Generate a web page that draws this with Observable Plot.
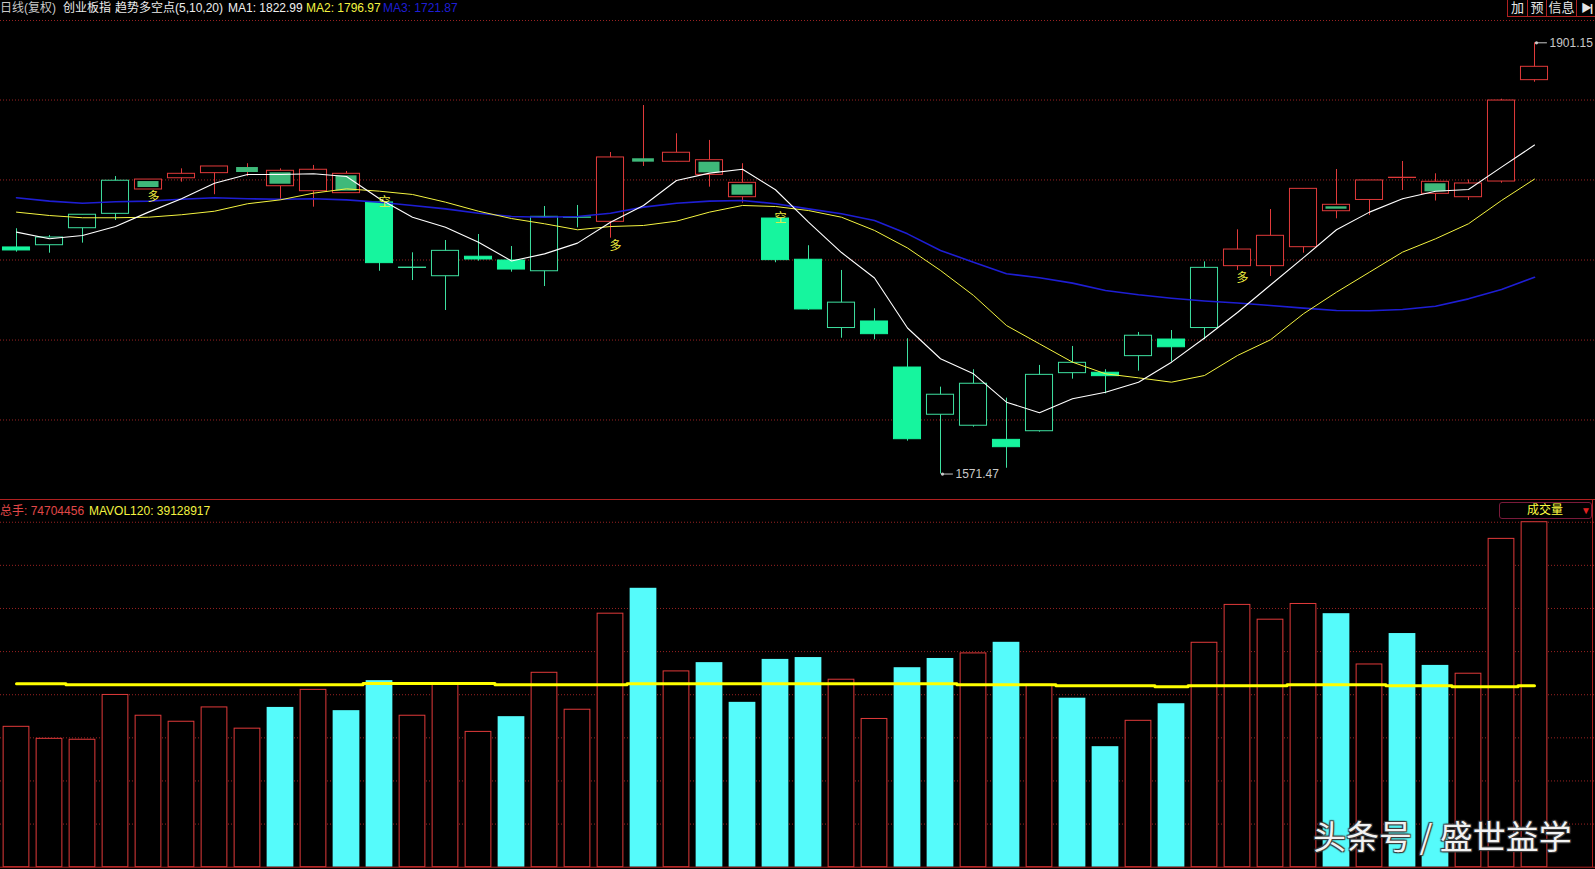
<!DOCTYPE html>
<html><head><meta charset="utf-8">
<script src="https://cdn.jsdelivr.net/npm/d3@7"></script>
<script src="https://cdn.jsdelivr.net/npm/@observablehq/plot@0.6"></script>
<style>
html,body{margin:0;padding:0;background:#000;overflow:hidden}
#root{position:relative;width:1595px;height:869px;background:#000;font-family:"Liberation Sans","Noto Sans CJK SC",sans-serif;font-size:12px;}
.abs{position:absolute;white-space:nowrap;line-height:16px}
.btn{position:absolute;top:0;height:16px;border:1px solid #b02020;border-top:none;color:#e6e6e6;font-size:13px;line-height:16px;text-align:center;box-sizing:content-box}
</style></head><body>
<div id="root"></div>
<script>
// ---------------- data ----------------
const headerParts = ["日线(复权)", "创业板指", "趋势多空点(5,10,20)"];
const maNames = ["MA1", "MA2", "MA3"];
const maLast = ["1822.99", "1796.97", "1721.87"];
const volHeader = {total: "74704456", mavolName: "MAVOL120", mavol: "39128917"};
const buttons = ["加", "预", "信息", "▶|"];
const indicatorName = "成交量";
const watermark = "头条号 / 盛世益学";

const open  = [1744.7,1746.4,1759.4,1770.4,1796.6,1797.6,1801.5,1805.8,1803.3,1787.7,
               1801.0,1779.1,1729.0,1722.7,1737.6,1734.7,1726.5,1767.4,1764.3,1812.5,
               1810.2,1811.4,1794.1,1766.8,1735.3,1683.1,1688.1,1652.9,1616.8,1608.4,
               1597.6,1604.2,1648.6,1648.9,1661.6,1674.3,1683.1,1730.4,1730.4,1744.9,
               1777.3,1781.0,1797.8,1794.9,1783.1,1795.1,1872.6];
const high  = [1759.0,1753.8,1769.7,1798.9,1796.6,1804.8,1806.6,1808.7,1804.8,1807.4,
               1802.8,1779.1,1740.6,1750.0,1754.6,1745.4,1776.0,1776.8,1817.3,1853.2,
               1831.6,1826.5,1808.7,1766.8,1746.0,1727.1,1697.8,1674.9,1637.9,1651.2,
               1629.5,1654.5,1669.0,1651.2,1679.7,1681.2,1733.7,1758.2,1773.7,1789.5,
               1804.3,1795.9,1810.4,1801.0,1796.3,1858.0,1901.15];
const low   = [1741.1,1740.3,1748.0,1765.3,1789.0,1794.6,1785.0,1798.9,1780.6,1775.5,
               1786.2,1726.5,1719.4,1696.5,1734.2,1725.8,1714.8,1759.7,1751.8,1806.6,
               1809.9,1790.8,1778.5,1733.0,1696.5,1675.3,1674.1,1596.6,1571.47,1607.3,
               1575.9,1603.5,1644.0,1632.8,1650.1,1657.0,1674.1,1727.1,1722.5,1740.3,
               1766.6,1769.1,1788.2,1780.2,1780.6,1793.8,1871.0];
const close = [1742.4,1752.3,1769.7,1795.7,1789.0,1801.0,1806.6,1802.0,1791.5,1804.1,
               1786.2,1732.7,1729.3,1742.1,1735.5,1727.8,1768.1,1767.6,1813.5,1809.9,
               1817.1,1800.2,1783.1,1735.0,1697.3,1702.5,1678.4,1598.1,1632.1,1640.5,
               1592.0,1647.3,1656.5,1646.3,1677.2,1668.4,1729.1,1743.1,1753.6,1789.5,
               1772.4,1795.9,1798.0,1785.7,1793.6,1857.0,1882.8];
// candle drawing style: F bright filled, G hollow green, R hollow red, M red box + green fill, N green fill only
const candleStyle = ["F","G","G","G","M","R","R","N","M","R",
                     "M","F","G","G","F","F","G","G","R","N",
                     "R","M","M","F","F","G","F","F","G","G",
                     "F","G","G","F","G","F","G","R","R","R",
                     "M","R","R","M","R","R","R"];
const ma5  = [1756.4,1751.3,1753.8,1760.7,1771.7,1781.9,1793.8,1800.5,1800.5,1801.0,
              1798.9,1781.9,1767.8,1760.2,1748.7,1734.4,1739.8,1748.0,1764.0,1776.8,
              1795.9,1801.5,1804.5,1788.8,1764.0,1740.8,1721.3,1683.1,1659.6,1648.1,
              1626.4,1618.3,1629.0,1634.0,1641.7,1657.0,1675.5,1695.0,1716.0,1736.9,
              1758.2,1771.7,1781.9,1787.7,1789.0,1806.1,1822.99];
const ma10 = [1771.7,1769.1,1767.4,1767.4,1767.8,1769.7,1772.4,1778.1,1781.1,1786.2,
              1789.5,1787.7,1785.2,1779.3,1772.4,1766.8,1762.8,1758.2,1760.7,1761.5,
              1764.8,1771.7,1776.8,1776.0,1772.9,1767.8,1757.7,1744.3,1727.1,1708.0,
              1685.0,1671.0,1657.0,1648.1,1645.0,1641.7,1646.8,1662.1,1674.1,1694.0,
              1710.5,1725.8,1741.1,1751.3,1762.8,1780.6,1796.97];
const ma20 = [1782.7,1780.1,1778.5,1779.6,1780.1,1781.6,1782.7,1781.9,1781.6,1781.9,
              1781.1,1779.3,1776.8,1774.2,1770.9,1768.4,1767.8,1768.4,1770.9,1775.5,
              1778.5,1780.1,1780.6,1778.1,1774.2,1770.4,1765.3,1755.1,1742.4,1733.4,
              1724.6,1721.5,1717.4,1711.8,1708.5,1705.9,1703.8,1702.2,1700.3,1698.3,
              1696.5,1696.3,1697.3,1699.8,1705.4,1712.6,1721.87];
// volume in millions of shares
const volume = [30.4,27.8,27.6,37.3,32.8,31.5,34.6,30.0,34.6,38.4,
                33.9,40.4,32.8,39.6,29.3,32.6,42.1,34.1,54.9,60.4,
                42.4,44.3,35.7,45.0,45.4,40.6,32.1,43.2,45.2,46.3,
                48.7,39.5,36.6,26.1,31.7,35.4,48.6,56.8,53.6,57.0,
                54.9,43.9,50.6,43.7,41.9,71.1,74.704456];
// volume bar colour: r hollow red, c filled cyan
const volumeColor = ["r","r","r","r","r","r","r","r","c","r",
                     "c","c","r","r","r","c","r","r","r","c",
                     "r","c","c","c","c","r","r","c","c","r",
                     "c","r","c","c","r","c","r","r","r","r",
                     "c","r","c","c","r","r","r"];
const mavol120 = [39.7,39.7,39.5,39.5,39.5,39.5,39.5,39.5,39.5,39.5,
                  39.5,39.8,39.8,39.8,39.8,39.5,39.5,39.5,39.5,39.7,
                  39.7,39.7,39.7,39.7,39.7,39.7,39.7,39.7,39.7,39.5,
                  39.5,39.5,39.3,39.3,39.3,39.1,39.3,39.3,39.3,39.5,
                  39.5,39.5,39.3,39.3,39.1,39.1,39.3];
const signalIndex = [4, 11, 18, 23, 37];
const signalText  = ["多", "空", "多", "空", "多"];
const priceGrid = [1918.2, 1857.4, 1796.3, 1735.1, 1673.9, 1612.8];
const volumeGrid = [9.34, 18.68, 28.01, 37.35, 46.69, 56.03, 65.37, 74.70];

// ---------------- styles ----------------
const W = 1595;
const RED = "#e03a3a", GRN = "#3ee0a0", BRIGHT = "#16f59e", MED = "#3fb97a";
const CYAN = "#55fbfb", GRIDC = "#9a2222", FRAME = "#b02020", YEL = "#ffff00";
const FONT = "Liberation Sans, Noto Sans CJK SC, sans-serif";

const root = document.getElementById("root");
function addDiv(html, css) {
  const d = document.createElement("div");
  d.className = "abs";
  d.innerHTML = html;
  Object.assign(d.style, css);
  root.appendChild(d);
  return d;
}

const idx = d3.range(open.length);
const candles = idx.map(i => ({
  i, o: open[i], h: high[i], l: low[i], c: close[i], s: candleStyle[i],
  top: Math.max(open[i], close[i]), bot: Math.min(open[i], close[i])
}));
const xDomain = [-16 / 33, (W - 16) / 33];
const isRed = s => s === "R" || s === "M" || s === "N";

const iMax = d3.maxIndex(high), iMin = d3.minIndex(low);
const extremes = [{i: iMax, v: high[iMax]}, {i: iMin, v: low[iMin]}];
const signals = signalIndex.map((i, k) => ({i, t: signalText[k], low: low[i], high: high[i]}));

const pricePlot = Plot.plot({
  width: W, height: 500, margin: 0,
  style: {background: "transparent", overflow: "visible"},
  x: {type: "linear", domain: xDomain, axis: null},
  y: {domain: [1551.24, 1933.49], axis: null},
  marks: [
    Plot.ruleY(priceGrid, {stroke: GRIDC, strokeDasharray: "1,2"}),
    Plot.ruleX(candles, {x: "i", y1: "l", y2: "h", stroke: d => isRed(d.s) ? RED : GRN}),
    Plot.rect(candles.filter(d => d.s !== "N"), {
      x1: d => d.i - 0.41, x2: d => d.i + 0.41, y1: "bot", y2: "top",
      fill: d => d.s === "F" ? BRIGHT : "#000",
      stroke: d => d.s === "F" ? BRIGHT : (d.s === "G" ? GRN : RED)
    }),
    Plot.rect(candles.filter(d => d.s === "M"), {
      x1: d => d.i - 0.41, x2: d => d.i + 0.41, y1: "bot", y2: "top",
      insetLeft: 3, insetRight: 3, insetTop: 2, insetBottom: 2, fill: MED
    }),
    Plot.rect(candles.filter(d => d.s === "N"), {
      x1: d => d.i - 0.33, x2: d => d.i + 0.33, y1: "bot", y2: "top", fill: MED
    }),
    Plot.line(idx, {x: i => i, y: i => ma20[i], stroke: "#1e1ed4", strokeWidth: 1.6}),
    Plot.line(idx, {x: i => i, y: i => ma10[i], stroke: "#f4f440", strokeWidth: 1}),
    Plot.line(idx, {x: i => i, y: i => ma5[i], stroke: "#ffffff", strokeWidth: 1.1}),
    Plot.text(signals.filter(d => d.t === "多"), {x: "i", y: "low", text: "t", dx: 5, dy: 8, fill: "#f0f040", fontSize: 12, fontFamily: "Noto Sans CJK SC"}),
    Plot.text(signals.filter(d => d.t === "空"), {x: "i", y: "high", text: "t", dx: 5, dy: 0, fill: "#f0f040", fontSize: 12, fontFamily: "Noto Sans CJK SC"}),
    // arrow pointers to the extreme high / low
    Plot.ruleY(extremes, {x1: d => d.i, x2: d => d.i + 0.36, y: "v", stroke: "#c8c8c8", dx: 1}),
    Plot.dot(extremes, {x: "i", y: "v", r: 1.6, fill: "#c8c8c8", dx: 2}),
    Plot.text(extremes, {x: "i", y: "v", text: d => d.v.toFixed(2), textAnchor: "start", dx: 15, fill: "#c8c8c8", fontSize: 12, fontFamily: FONT})
  ]
});
Object.assign(pricePlot.style, {position: "absolute", left: "0px", top: "0px"});
root.appendChild(pricePlot);

const bars = idx.map(i => ({i, v: volume[i], c: volumeColor[i], m: mavol120[i]}));
const volPlot = Plot.plot({
  width: W, height: 369, margin: 0,
  style: {background: "transparent", overflow: "visible"},
  x: {type: "linear", domain: xDomain, axis: null},
  y: {domain: [-0.498, 79.41], axis: null},
  marks: [
    Plot.ruleY(volumeGrid, {stroke: GRIDC, strokeDasharray: "1,2"}),
    Plot.rect(bars.filter(d => d.c === "r"), {x1: d => d.i - 0.39, x2: d => d.i + 0.39, y1: 0, y2: "v", fill: "#000", stroke: RED}),
    Plot.rect(bars.filter(d => d.c === "c"), {x1: d => d.i - 0.405, x2: d => d.i + 0.405, y1: 0, y2: "v", fill: CYAN}),
    Plot.line(bars, {x: "i", y: "m", curve: "step", stroke: YEL, strokeWidth: 3}),
    Plot.ruleY([0], {stroke: FRAME})
  ]
});
Object.assign(volPlot.style, {position: "absolute", left: "0px", top: "500px"});
root.appendChild(volPlot);

// pane separator and right frame of the volume pane
const sep = document.createElement("div");
Object.assign(sep.style, {position: "absolute", left: "0px", top: "499px", width: W + "px", height: "1px", background: FRAME});
root.appendChild(sep);
const rb = document.createElement("div");
Object.assign(rb.style, {position: "absolute", left: "1592px", top: "500px", width: "1px", height: "367px", background: FRAME});
root.appendChild(rb);

// header texts
addDiv(headerParts[0], {left: "0px", top: "0px", color: "#c8c8c8"});
addDiv(headerParts[1], {left: "63px", top: "0px", color: "#ececec"});
addDiv(headerParts[2], {left: "115px", top: "0px", color: "#ececec"});
addDiv(maNames[0] + ": " + maLast[0], {left: "228px", top: "0px", color: "#f0f0f0"});
addDiv(maNames[1] + ": " + maLast[1], {left: "306px", top: "0px", color: "#f4f440"});
addDiv(maNames[2] + ": " + maLast[2], {left: "383px", top: "0px", color: "#1e1ed4"});

// top right buttons
const btnX = [1507, 1527, 1546, 1576], btnW = [19, 18, 29, 18];
buttons.forEach((b, k) => {
  const d = document.createElement("div");
  d.className = "btn";
  d.textContent = b;
  Object.assign(d.style, {left: btnX[k] + "px", width: btnW[k] + "px"});
  if (k === 3) { d.style.fontSize = "11px"; d.style.letterSpacing = "-2px"; d.style.fontWeight = "bold"; }
  root.appendChild(d);
});

// volume header
addDiv(`<span style="color:#e04848">总手: ${volHeader.total}</span>`, {left: "0px", top: "503px"});
addDiv(`<span style="color:#f4f440">${volHeader.mavolName}: ${volHeader.mavol}</span>`, {left: "89px", top: "503px"});

// indicator selector box
const box = document.createElement("div");
Object.assign(box.style, {position: "absolute", left: "1499px", top: "502px", width: "91px", height: "15px",
  border: "1px solid #7a1a3a", borderRadius: "3px", boxSizing: "content-box"});
box.innerHTML = `<span style="position:absolute;left:27px;top:0px;line-height:15px;color:#ffff40;font-size:12px">${indicatorName}</span>` +
  `<span style="position:absolute;left:81px;top:0px;line-height:15px;color:#e02020;font-size:10px">▼</span>`;
root.appendChild(box);

// watermark
addDiv(watermark, {left: "1313px", top: "815px", fontSize: "33px", lineHeight: "40px", color: "#f2f2f2",
  fontFamily: "Noto Sans CJK SC, sans-serif", textShadow: "1px 1px 1px #3a3a3a, -1px -1px 1px #3a3a3a, 1px -1px 1px #3a3a3a, -1px 1px 1px #3a3a3a"});
</script>
</body></html>
